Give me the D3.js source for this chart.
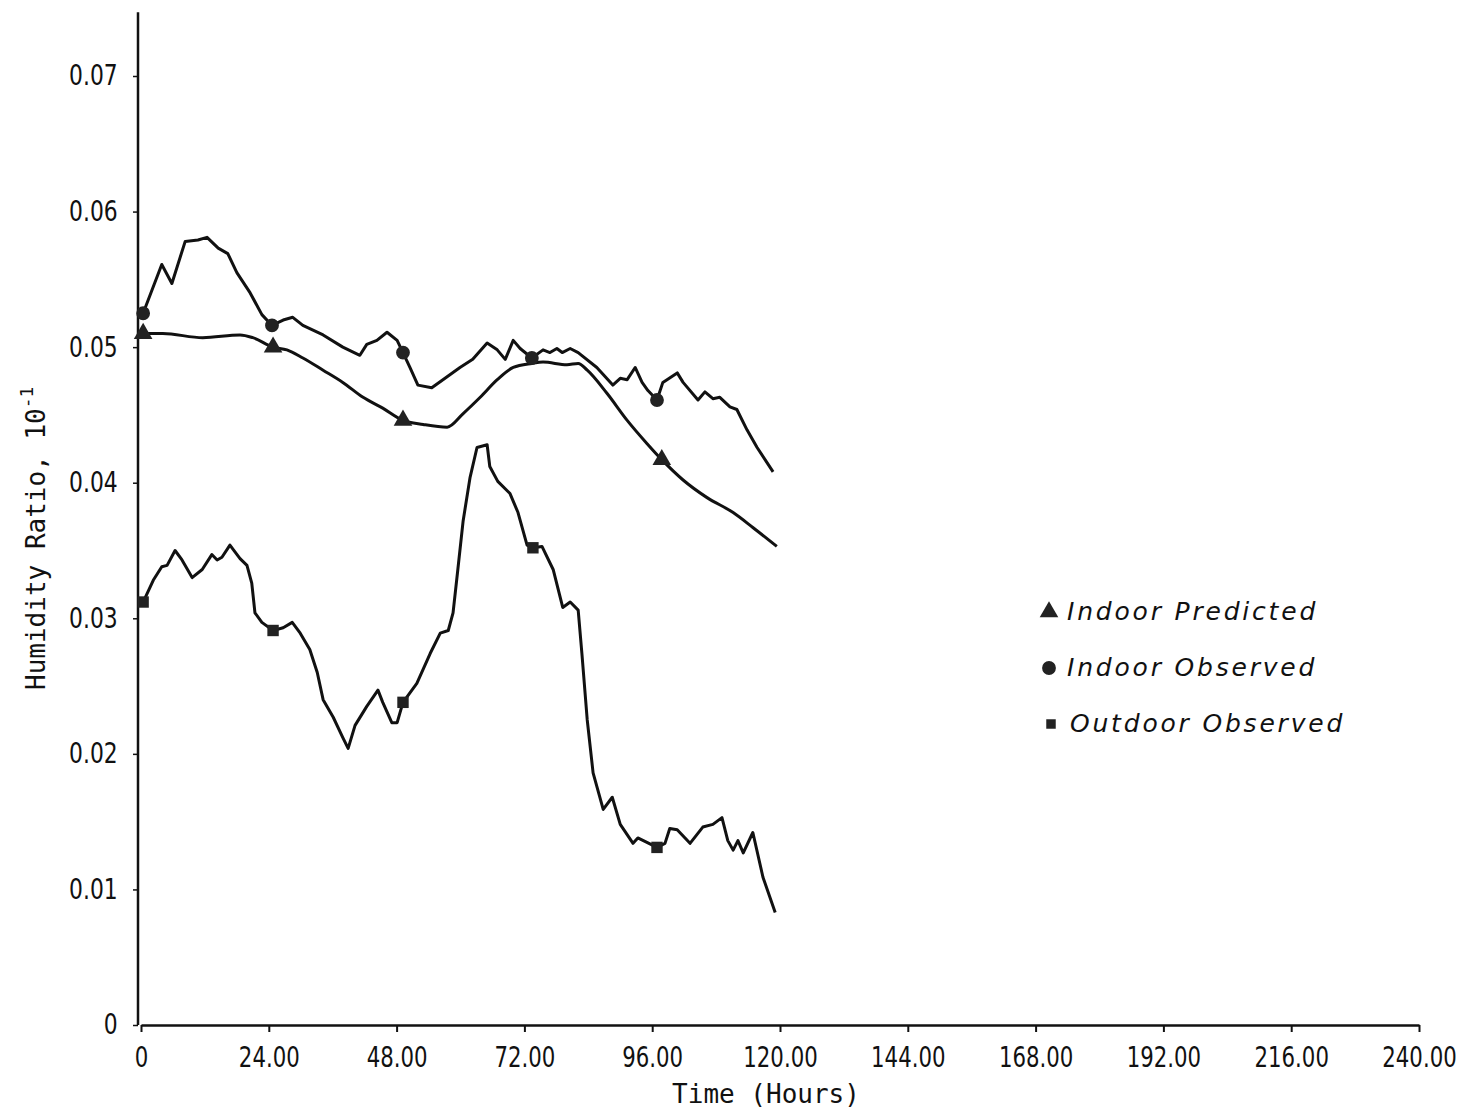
<!DOCTYPE html>
<meta charset="utf-8">
<style>
body { margin: 0; background: #fff; }
.line { fill: none; stroke: #111; stroke-width: 3px; stroke-linejoin: round; }
.axis path, .axis line { stroke: #111; }
.tick text { font-family: "DejaVu Sans", sans-serif; font-size: 28px; fill: #111; }
.title { font-family: "DejaVu Sans Mono", monospace; font-size: 26px; fill: #111; }
.legend text { font-family: "DejaVu Sans", sans-serif; font-style: italic; font-size: 25px; letter-spacing: 2.8px; fill: #111; }
</style>
<script src="https://cdn.jsdelivr.net/npm/d3@7"></script>
<body>
<script>

var width = 1460,
    height = 1112;

// hours / humidity ratio readings
var predHours = [0.4, 4.1, 11.6, 18.6, 21.0, 24.8, 27.4, 30.4, 34.2, 37.9, 41.7, 45.4, 49.2, 53.0, 57.5, 60.5, 63.7, 66.9, 69.9, 73.4, 75.5, 80.0, 82.1, 83.8, 87.5, 91.3, 95.0, 97.8, 101.8, 106.3, 111.2, 114.9, 119.4];
var predValues = [0.0510, 0.0510, 0.0507, 0.0509, 0.0507, 0.0500, 0.0498, 0.0492, 0.0483, 0.0474, 0.0463, 0.0455, 0.0446, 0.0443, 0.0441, 0.0451, 0.0463, 0.0476, 0.0485, 0.0488, 0.0489, 0.0487, 0.0488, 0.0483, 0.0466, 0.0446, 0.0429, 0.0417, 0.0402, 0.0389, 0.0378, 0.0367, 0.0353];

var inObsHours = [0.4, 3.9, 5.8, 8.3, 10.7, 12.4, 14.5, 16.3, 18.0, 20.5, 22.7, 24.6, 26.7, 28.5, 30.4, 34.2, 37.9, 41.1, 42.4, 44.3, 46.2, 48.1, 49.2, 50.5, 52.0, 54.6, 56.7, 59.9, 62.3, 65.0, 66.9, 68.4, 69.9, 71.2, 73.4, 75.5, 76.8, 78.1, 79.1, 80.6, 82.1, 85.6, 88.6, 90.0, 91.3, 92.8, 94.1, 95.2, 96.9, 98.0, 100.7, 101.8, 104.6, 105.9, 107.4, 108.7, 110.6, 111.9, 113.8, 115.7, 118.7];
var inObsValues = [0.0525, 0.0561, 0.0547, 0.0578, 0.0579, 0.0581, 0.0573, 0.0569, 0.0555, 0.0540, 0.0524, 0.0516, 0.0520, 0.0522, 0.0516, 0.0509, 0.0500, 0.0494, 0.0502, 0.0505, 0.0511, 0.0505, 0.0496, 0.0485, 0.0472, 0.0470, 0.0476, 0.0485, 0.0491, 0.0503, 0.0498, 0.0491, 0.0505, 0.0499, 0.0492, 0.0498, 0.0496, 0.0499, 0.0496, 0.0499, 0.0496, 0.0485, 0.0472, 0.0477, 0.0476, 0.0485, 0.0474, 0.0468, 0.0461, 0.0474, 0.0481, 0.0474, 0.0461, 0.0467, 0.0462, 0.0463, 0.0456, 0.0454, 0.0439, 0.0426, 0.0408];

var outObsHours = [0.4, 2.3, 3.9, 4.9, 6.4, 7.7, 9.6, 11.5, 13.3, 14.3, 15.2, 16.7, 18.6, 19.9, 20.8, 21.4, 22.7, 24.8, 26.7, 28.4, 29.9, 31.7, 33.1, 34.2, 36.1, 37.9, 38.9, 40.2, 42.4, 44.5, 45.4, 47.1, 48.1, 49.2, 51.8, 54.3, 56.2, 57.7, 58.6, 59.5, 60.5, 61.8, 63.1, 65.0, 65.5, 67.0, 69.3, 70.8, 72.5, 73.6, 75.3, 77.4, 79.2, 80.6, 82.1, 82.8, 83.8, 84.9, 86.8, 88.5, 90.0, 92.4, 93.3, 96.9, 98.4, 99.3, 100.7, 103.1, 105.5, 107.4, 109.1, 110.2, 111.2, 112.1, 113.1, 114.9, 116.8, 119.1];
var outObsValues = [0.0312, 0.0328, 0.0338, 0.0339, 0.0350, 0.0343, 0.0330, 0.0336, 0.0347, 0.0343, 0.0345, 0.0354, 0.0344, 0.0339, 0.0326, 0.0304, 0.0297, 0.0291, 0.0293, 0.0297, 0.0289, 0.0277, 0.0260, 0.0240, 0.0227, 0.0212, 0.0204, 0.0221, 0.0235, 0.0247, 0.0238, 0.0223, 0.0223, 0.0238, 0.0252, 0.0274, 0.0289, 0.0291, 0.0304, 0.0336, 0.0372, 0.0404, 0.0426, 0.0428, 0.0412, 0.0401, 0.0392, 0.0378, 0.0354, 0.0352, 0.0353, 0.0336, 0.0308, 0.0312, 0.0306, 0.0274, 0.0225, 0.0186, 0.0159, 0.0168, 0.0148, 0.0134, 0.0138, 0.0131, 0.0134, 0.0145, 0.0144, 0.0134, 0.0146, 0.0148, 0.0153, 0.0136, 0.0129, 0.0136, 0.0127, 0.0142, 0.0109, 0.0083];

// hours where the symbols sit on each curve
var predMarks = [0.4, 24.8, 49.2, 97.8];
var inObsMarks = [0.4, 24.6, 49.2, 73.4, 96.9];
var outObsMarks = [0.4, 24.8, 49.2, 73.6, 96.9];

var xTicks = [0, 24, 48, 72, 96, 120, 144, 168, 192, 216, 240];
var yTicks = [0, 0.01, 0.02, 0.03, 0.04, 0.05, 0.06, 0.07];
var yTop = 0.0747;

var legendNames = ["Indoor Predicted", "Indoor Observed", "Outdoor Observed"];

var svg = d3.select("body").append("svg")
    .attr("width", width)
    .attr("height", height);

var x = d3.scaleLinear().domain([0, 240]).range([141, 1419]);
var y = d3.scaleLinear().domain([0, 0.07]).range([1025, 76]);

var fmt = function (d) { return d === 0 ? "0" : d3.format(".2f")(d); };

// axes
var xAxis = d3.axisBottom(x)
    .tickValues(xTicks)
    .tickSize(7)
    .tickSizeOuter(0)
    .tickPadding(15)
    .tickFormat(fmt);

svg.append("g")
    .attr("class", "axis")
    .attr("transform", "translate(0," + y(0) + ")")
    .call(xAxis)
    .call(function (g) { g.select(".domain").attr("stroke-width", 2.5); })
    .call(function (g) { g.selectAll(".tick line").attr("stroke-width", 2); })
    .call(function (g) { g.selectAll(".tick text").attr("transform", "scale(0.76,1)"); });

var yAxis = d3.axisLeft(y)
    .tickValues(yTicks)
    .tickSize(5)
    .tickPadding(21)
    .tickFormat(fmt);

var gy = svg.append("g")
    .attr("class", "axis")
    .attr("transform", "translate(" + (x(0) - 3) + ",0)")
    .call(yAxis);
gy.select(".domain").remove();
gy.selectAll(".tick line").attr("stroke-width", 1.5);
gy.selectAll(".tick text").attr("transform", "scale(0.78,1)");
gy.append("line")
    .attr("y1", y(yTop))
    .attr("y2", y(0))
    .attr("stroke", "#111")
    .attr("stroke-width", 2.5);

// axis titles
svg.append("text")
    .attr("class", "title")
    .attr("x", 766)
    .attr("y", 1103)
    .attr("text-anchor", "middle")
    .text("Time (Hours)");

var yt = svg.append("text")
    .attr("class", "title")
    .attr("transform", "translate(45,690) rotate(-90)");
yt.append("tspan").text("Humidity Ratio, 10");
yt.append("tspan")
    .attr("dy", -12)
    .attr("font-size", "18px")
    .text("-1");

// series
var series = [
  { hours: predHours, values: predValues, marks: predMarks, symbol: d3.symbolTriangle, curve: d3.curveMonotoneX },
  { hours: inObsHours, values: inObsValues, marks: inObsMarks, symbol: d3.symbolCircle, curve: d3.curveLinear },
  { hours: outObsHours, values: outObsValues, marks: outObsMarks, symbol: d3.symbolSquare, curve: d3.curveLinear }
];

series.forEach(function (s) {
  var pts = s.hours.map(function (h, i) { return [h, s.values[i]]; });
  var line = d3.line()
      .x(function (d) { return x(d[0]); })
      .y(function (d) { return y(d[1]); })
      .curve(s.curve);

  svg.append("path")
      .datum(pts)
      .attr("class", "line")
      .attr("d", line);

  var marks = s.marks.map(function (h) {
    var i = d3.minIndex(s.hours, function (v) { return Math.abs(v - h); });
    return pts[i];
  });

  svg.selectAll(null)
      .data(marks)
      .enter()
      .append("path")
      .attr("transform", function (d) { return "translate(" + x(d[0]) + "," + y(d[1]) + ")"; })
      .attr("d", d3.symbol().type(s.symbol).size(s.symbol === d3.symbolSquare ? 130 : 150))
      .attr("fill", "#222");
});

// legend
var legend = svg.append("g")
    .attr("class", "legend")
    .selectAll("g")
    .data(legendNames)
    .enter()
      .append("g")
      .attr("transform", function (d, i) { return "translate(1049," + (612 + i * 56) + ")"; });

legend.append("path")
    .attr("d", function (d, i) {
      return d3.symbol().type(series[i].symbol).size(i === 2 ? 90 : 150)();
    })
    .attr("transform", function (d, i) { return i === 2 ? "translate(2,0)" : null; })
    .attr("fill", "#222");

legend.append("text")
    .attr("x", function (d, i) { return i === 2 ? 21 : 18; })
    .attr("y", 8)
    .text(function (d) { return d; });

</script>
</body>
